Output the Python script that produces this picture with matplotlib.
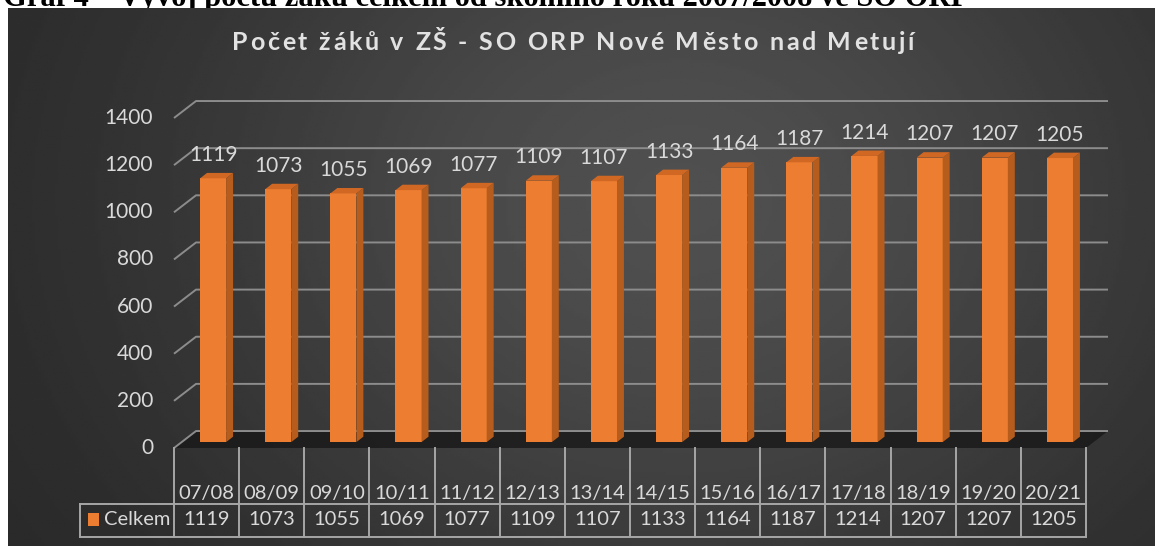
import numpy as np
import matplotlib
matplotlib.use("Agg")
import matplotlib.pyplot as plt
from matplotlib.patches import Polygon, Rectangle
from matplotlib.font_manager import FontProperties

# data
years = ["07/08", "08/09", "09/10", "10/11", "11/12", "12/13", "13/14",
         "14/15", "15/16", "16/17", "17/18", "18/19", "19/20", "20/21"]
celkem = [1119, 1073, 1055, 1069, 1077, 1109, 1107,
          1133, 1164, 1187, 1214, 1207, 1207, 1205]
y_ticks = [0, 200, 400, 600, 800, 1000, 1200, 1400]
series_name = "Celkem"
title = "Počet žáků v ZŠ - SO ORP Nové Město nad Metují"
heading = "Graf 4 – Vývoj počtu žáků celkem od školního roku 2007/2008 ve SO ORP"

W, H = 1155, 546
FONT = "Lato"
TXT = "#d9d9d9"
GRID = "#8c8c8c"
ORANGE = "#ed7d31"
SIDE = "#b65c1c"
TOP = "#d06824"
FS = 15

fig = plt.figure(figsize=(W / 100, H / 100), dpi=100)
fig.patch.set_facecolor("white")

# document heading, mostly cut off by the top edge
fig.text(3 / W, 1 - 6 / H, heading, family="Liberation Serif", weight="bold",
         size=22, ha="left", va="baseline", color="black", zorder=-5)

# dark gradient panel
bg = fig.add_axes([8 / W, 0, 1 - 8 / W, 1 - 8 / H])
bg.set_axis_off()
xx, yy = np.meshgrid(np.linspace(8, W, 400), np.linspace(8, H, 200))
glow = np.exp(-((xx - 680) / 520) ** 2 - ((yy - 200) / 420) ** 2)
shade = 0.15 + 0.16 * glow
bg.imshow(shade, cmap="gray", vmin=0, vmax=1, aspect="auto",
          extent=[0, 1, 0, 1], origin="upper")
bg.set_xlim(0, 1)
bg.set_ylim(0, 1)

# front plane of the 3D chart
ax = fig.add_axes([174 / W, (H - 448) / H, 912 / W, 330 / H])
ax.set_xlim(-0.5, 13.5)
ax.set_ylim(0, 1400)
ax.set_axis_off()
ax.patch.set_visible(False)

n = len(years)
x = np.arange(n)
DX, DY = 0.338, 72      # full depth of the box (data units)
BX, BY = 0.10, 25       # bar front offset
TX, TY = 0.107, 23      # bar thickness
bw = 0.4

# floor shadow
ax.add_patch(Polygon([(-0.5, 0), (n - 0.5, 0), (n - 0.5 + DX, DY), (-0.5 + DX, DY)],
                     closed=True, color="#181818", alpha=0.8, lw=0, zorder=0.5,
                     clip_on=False))

# back wall gridlines with left wall diagonals
for v in y_ticks:
    ax.plot([-0.5, -0.5 + DX, n - 0.5 + DX], [v, v + DY, v + DY],
            color=GRID, lw=1.4, zorder=1, clip_on=False, solid_capstyle="butt")
    ax.text(-0.822, v, str(v), ha="right", va="center", color=TXT,
            size=FS, family=FONT)

# bars
ax.bar(x + BX, celkem, width=bw, bottom=BY, color=ORANGE, zorder=3, clip_on=False)
for i, v in enumerate(celkem):
    r = i + BX + bw / 2
    l = i + BX - bw / 2
    ax.add_patch(Polygon([(r, BY), (r + TX, BY + TY), (r + TX, v + BY + TY), (r, v + BY)],
                         closed=True, color=SIDE, lw=0, zorder=3, clip_on=False))
    ax.add_patch(Polygon([(l, v + BY), (l + TX, v + BY + TY), (r + TX, v + BY + TY), (r, v + BY)],
                         closed=True, color=TOP, lw=0, zorder=3, clip_on=False))
    ax.text(i + BX, v + 124, str(v), ha="center", va="center", color=TXT,
            size=FS, family=FONT)

# data table under the chart
row1, row2 = -238, -378
leg_x = -1.943
TL = "#a6a6a6"
for k in range(n + 1):
    ax.plot([k - 0.5, k - 0.5], [0, row2], color=TL, lw=1.4, clip_on=False, zorder=2)
ax.plot([leg_x, n - 0.5], [row1, row1], color=TL, lw=1.4, clip_on=False, zorder=2)
ax.plot([leg_x, n - 0.5], [row2, row2], color=TL, lw=1.4, clip_on=False, zorder=2)
ax.plot([leg_x, leg_x], [row1, row2], color=TL, lw=1.4, clip_on=False, zorder=2)
for i, (yr, v) in enumerate(zip(years, celkem)):
    ax.text(i, -191, yr, ha="center", va="center", color=TXT, size=FS - 0.5, family=FONT)
    ax.text(i, -305, str(v), ha="center", va="center", color=TXT, size=FS - 0.5, family=FONT)
ax.add_patch(Rectangle((-1.82, -305 - 27), 0.169, 55, color=ORANGE, lw=0,
                       clip_on=False, zorder=3))
ax.text(-1.575, -305, series_name, ha="left", va="center", color=TXT, size=FS - 0.5,
        family=FONT)

# title with Excel-like letter spacing
fp = FontProperties(family=FONT, weight="bold", size=18)
rend = fig.canvas.get_renderer()
w0 = rend.get_text_width_height_descent("|", fp, ismath=False)[0]


def adv(s):
    return rend.get_text_width_height_descent(s + "|", fp, ismath=False)[0] - w0


x0, x1 = 232, 914
gap = (x1 - x0 - adv(title)) / (len(title) - 1)
for i, ch in enumerate(title):
    fig.text((x0 + adv(title[:i]) + i * gap) / W, 1 - 50 / H, ch, fontproperties=fp,
             color="#e2e2e2", ha="left", va="baseline")

fig.savefig("out.png", dpi=100, facecolor="white")
